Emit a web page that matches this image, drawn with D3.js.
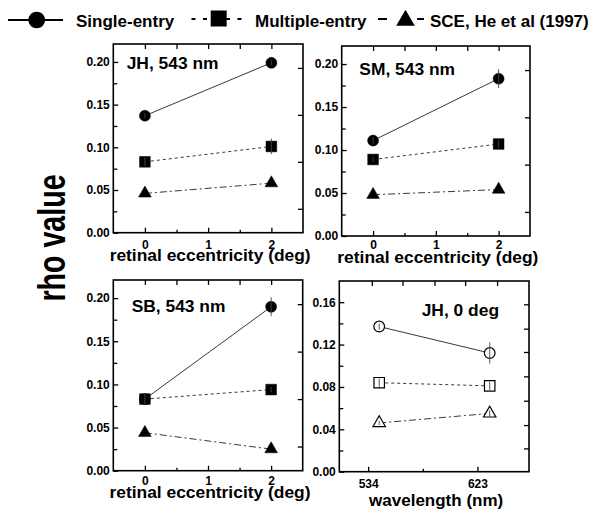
<!DOCTYPE html>
<html><head><meta charset="utf-8">
<script src="https://cdn.jsdelivr.net/npm/d3@7"></script>
<style>
html,body{margin:0;padding:0;background:#fff;}
svg{display:block;font-family:"Liberation Sans",Arial,Helvetica,sans-serif;font-weight:bold;}
</style></head>
<body><svg id="c" width="600" height="516"></svg>
<script>
// ---------- data ----------
const panelNames = ["JH, 543 nm", "SM, 543 nm", "SB, 543 nm", "JH, 0 deg"];
const xTitles = ["retinal eccentricity (deg)", "retinal eccentricity (deg)", "retinal eccentricity (deg)", "wavelength (nm)"];
const eccentricity = [0, 2];
const wavelength = [543, 633];
const singleEntry   = [[0.137, 0.199], [0.111, 0.183], [0.083, 0.190], [0.137, 0.112]];
const singleErr     = [[0.003, 0.003], [0.004, 0.011], [0.006, 0.011], [0.003, 0.010]];
const multipleEntry = [[0.083, 0.101], [0.089, 0.107], [0.083, 0.094], [0.084, 0.081]];
const multipleErr   = [[0.005, 0.009], [0.003, 0.004], [0.006, 0.003], [0.004, 0.004]];
const sceHe         = [[0.046, 0.058], [0.048, 0.054], [0.044, 0.025], [0.046, 0.055]];
const sceErr        = [[0, 0], [0, 0], [0, 0], [0.002, 0.003]];
const legendLabels  = ["Single-entry", "Multiple-entry", "SCE, He et al (1997)"];
const yLabel = "rho value";

// tick values
const eccTicksMajor = [0, 1, 2];
const eccTicksMinor = [0.5, 1.5];
const eccTicksTop = [0, 0.5, 1, 1.5, 2];
const rhoTicksMajor = [0, 0.05, 0.10, 0.15, 0.20];
const rhoTicksMinor = [0.025, 0.075, 0.125, 0.175];
const rhoTicksRight = [0.028, 0.083, 0.138, 0.193];
const wlTicksMajor = [534, 623];
const wlTicksMinor = [578.5];
const wlTicksTop = [537, 562, 588, 613, 639];
const rho4TicksMajor = [0, 0.04, 0.08, 0.12, 0.16];
const rho4TicksMinor = [0.02, 0.06, 0.10, 0.14];
const rho4TicksRight = [0.022, 0.044, 0.067, 0.090, 0.113, 0.135, 0.158];

// ---------- layout ----------
const layout = [
  {x0: 113.3, x1: 303, y0: 44, y1: 232.7, titleY: 261, labelX: 126.7, labelY: 68.5, pad: 7.5},
  {x0: 341.7, x1: 530, y0: 46, y1: 236, titleY: 262.5, labelX: 359.3, labelY: 75, pad: 4},
  {x0: 113.3, x1: 302.7, y0: 280, y1: 470.7, titleY: 497.5, labelX: 131.7, labelY: 311.7, pad: 6},
  {x0: 339.3, x1: 529, y0: 281, y1: 471.7, titleY: 506, labelX: 421.7, labelY: 316, pad: 8}
];

const svg = d3.select("#c");
const fmt2 = d3.format(".2f");

function tickSet(g, axisGen, vals, len, fmt, pad) {
  const a = axisGen.tickValues(vals).tickSizeInner(-len).tickSizeOuter(0);
  if (fmt) a.tickFormat(fmt).tickPadding(pad); else a.tickFormat("");
  g.call(a);
  g.select(".domain").remove();
  g.selectAll("line").attr("stroke", "#000").attr("stroke-width", 1.3);
  g.selectAll("text").attr("fill", "#000").style("font-size", "12px").style("font-weight", "bold")
    .style("font-family", '"Liberation Sans",Arial,sans-serif');
}

layout.forEach((L, i) => {
  const isWl = i === 3;
  const xs = isWl ? d3.scaleLinear().domain([510.5, 665]).range([L.x0, L.x1])
                  : d3.scaleLinear().domain([-0.5, 2.5]).range([L.x0, L.x1]);
  const ys = isWl ? d3.scaleLinear().domain([0, 0.18]).range([L.y1, L.y0])
                  : d3.scaleLinear().domain([0, 0.221]).range([L.y1, L.y0]);
  const g = svg.append("g");

  const bMaj = isWl ? wlTicksMajor : eccTicksMajor;
  const bMin = isWl ? wlTicksMinor : eccTicksMinor;
  const tTop = isWl ? wlTicksTop : eccTicksTop;
  const lMaj = isWl ? rho4TicksMajor : rhoTicksMajor;
  const lMin = isWl ? rho4TicksMinor : rhoTicksMinor;
  const rT = isWl ? rho4TicksRight : rhoTicksRight;

  tickSet(g.append("g").attr("transform", `translate(0,${L.y1})`), d3.axisBottom(xs), bMaj, 5, d3.format("d"), L.pad);
  tickSet(g.append("g").attr("transform", `translate(0,${L.y1})`), d3.axisBottom(xs), bMin, 3, null);
  tickSet(g.append("g").attr("transform", `translate(0,${L.y0})`), d3.axisTop(xs), tTop, 5, null);
  tickSet(g.append("g").attr("transform", `translate(${L.x0},0)`), d3.axisLeft(ys), lMaj, 5, fmt2, 3.5);
  tickSet(g.append("g").attr("transform", `translate(${L.x0},0)`), d3.axisLeft(ys), lMin, 4, null);
  const rs = d3.scaleLinear().domain(ys.domain()).range(ys.range());
  tickSet(g.append("g").attr("transform", `translate(${L.x1},0)`), d3.axisRight(rs), rT, 5, null);

  g.append("rect").attr("x", L.x0).attr("y", L.y0).attr("width", L.x1 - L.x0).attr("height", L.y1 - L.y0)
    .attr("fill", "none").attr("stroke", "#000").attr("stroke-width", 1.6);

  g.append("text").attr("x", L.labelX).attr("y", L.labelY).style("font-size", "17.4px").text(panelNames[i]);
  g.append("text").attr("x", (L.x0 + L.x1) / 2 + 2).attr("y", L.titleY).attr("text-anchor", "middle")
    .style("font-size", isWl ? "17px" : "17.4px").text(xTitles[i]);

  const xv = isWl ? wavelength : eccentricity;
  const series = [
    {v: singleEntry[i], e: singleErr[i], dash: null, sym: d3.symbolCircle, size: 95},
    {v: multipleEntry[i], e: multipleErr[i], dash: "3,3", sym: d3.symbolSquare, size: 115},
    {v: sceHe[i], e: sceErr[i], dash: "7,3,2,3", sym: d3.symbolTriangle, size: 70}
  ];
  const line = d3.line().x((d, k) => xs(xv[k])).y(d => ys(d));
  series.forEach(s => {
    g.append("path").attr("d", line(s.v)).attr("fill", "none").attr("stroke", "#222")
      .attr("stroke-width", 0.9).attr("stroke-dasharray", s.dash);
  });
  series.forEach(s => {
    const sym = d3.symbol().type(s.sym).size(isWl ? s.size * 0.95 : s.size);
    s.v.forEach((val, k) => {
      g.append("path").attr("d", sym()).attr("transform", `translate(${xs(xv[k])},${ys(val)})`)
        .attr("fill", isWl ? "#fff" : "#000").attr("stroke", "#000").attr("stroke-width", isWl ? 1.2 : 0.5);
      if (s.e[k] > 0) {
        g.append("line").attr("x1", xs(xv[k])).attr("x2", xs(xv[k]))
          .attr("y1", ys(val - s.e[k])).attr("y2", ys(val + s.e[k]))
          .attr("stroke", "#444").attr("stroke-width", 0.9);
      }
    });
  });
});

svg.append("text").attr("transform", "translate(65,238) rotate(-90) scale(1,1.38)")
  .attr("text-anchor", "middle").style("font-size", "28.6px").text(yLabel);

const lg = svg.append("g");
lg.append("line").attr("x1", 8).attr("x2", 63).attr("y1", 20).attr("y2", 20).attr("stroke", "#000").attr("stroke-width", 2);
lg.append("path").attr("d", d3.symbol().type(d3.symbolCircle).size(220)()).attr("transform", "translate(36.7,20)");
lg.append("text").attr("x", 76).attr("y", 26.5).style("font-size", "17px").text(legendLabels[0]);

lg.append("line").attr("x1", 191.5).attr("x2", 245).attr("y1", 19).attr("y2", 19).attr("stroke", "#000")
  .attr("stroke-width", 2).attr("stroke-dasharray", "4,7.5");
lg.append("path").attr("d", d3.symbol().type(d3.symbolSquare).size(256)()).attr("transform", "translate(218.7,18.5)");
lg.append("text").attr("x", 255).attr("y", 26.5).style("font-size", "17px").text(legendLabels[1]);

lg.append("line").attr("x1", 378).attr("x2", 424).attr("y1", 19).attr("y2", 19).attr("stroke", "#000")
  .attr("stroke-width", 2).attr("stroke-dasharray", "9,30,7");
lg.append("path").attr("d", d3.symbol().type(d3.symbolTriangle).size(150)()).attr("transform", "translate(405.5,20.5)");
lg.append("text").attr("x", 430).attr("y", 26.5).style("font-size", "17px").text(legendLabels[2]);
</script></body></html>
